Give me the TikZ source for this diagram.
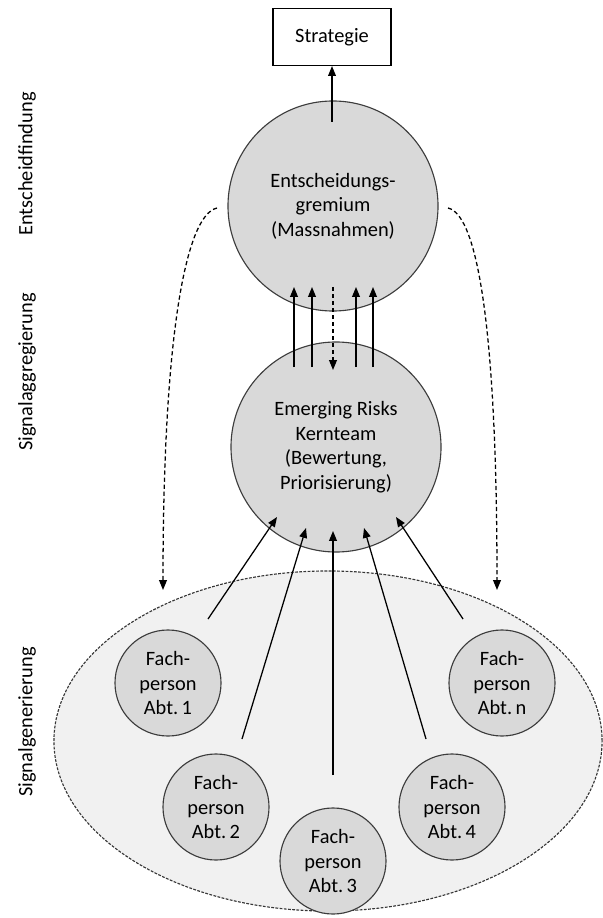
\documentclass[tikz,border=0pt]{standalone}
\usepackage{fontspec}
\setmainfont{Carlito}
\usetikzlibrary{arrows.meta,shapes.geometric}
\definecolor{circlegray}{RGB}{217,217,217}
\definecolor{zonegray}{RGB}{241,241,241}
\definecolor{edgegray}{RGB}{60,60,60}

\begin{document}
\begin{tikzpicture}[x=0.025cm,y=-0.025cm,
  >={Triangle[length=7pt,width=5.5pt]},
  every node/.style={font=\fontsize{14.5}{17.4}\selectfont,align=center},
  bigcircle/.style={circle,draw=edgegray,line width=0.8pt,fill=circlegray,minimum size=5.25cm,inner sep=0pt},
  smallcircle/.style={circle,draw=edgegray,line width=0.8pt,fill=circlegray,minimum size=2.65cm,inner sep=0pt},
  flow/.style={->,line width=0.9pt},
  feedback/.style={->,line width=0.9pt,dash pattern=on 3pt off 2pt}]
\useasboundingbox (0,0) rectangle (603,918);

% ebenen links
\node[rotate=90] (ebene1) at (27,164) {Entscheidfindung};
\node[rotate=90] (ebene2) at (27,372) {Signalaggregierung};
\node[rotate=90] (ebene3) at (27,722) {Signalgenerierung};

% signalgenerierung
\node[ellipse,draw=edgegray!90!black,fill=zonegray,line width=0.8pt,dash pattern=on 2pt off 1pt,
  minimum width=13.7cm,minimum height=8.5cm] (zone) at (328,741) {};
\node[smallcircle] (fach1) at (168,683) {Fach-\\person\\Abt.\,1};
\node[smallcircle] (fach2) at (216,807) {Fach-\\person\\Abt.\,2};
\node[smallcircle] (fach3) at (333,861) {Fach-\\person\\Abt.\,3};
\node[smallcircle] (fach4) at (452,807) {Fach-\\person\\Abt.\,4};
\node[smallcircle] (fachn) at (502,683) {Fach-\\person\\Abt.\,n};

% kernteam und gremium
\node[bigcircle] (kernteam) at (336,447) {Emerging Risks\\Kernteam\\(Bewertung,\\Priorisierung)};
\node[bigcircle] (gremium) at (333,206) {Entscheidungs-\\gremium\\(Massnahmen)};
\node[draw,line width=0.8pt,minimum width=2.95cm,minimum height=1.425cm] (strategie) at (332,37) {Strategie};

\coordinate (g0) at (332,122);
\draw[flow] (g0) -- (strategie.south);

% zwischen den kreisen
\coordinate (u1a) at (294,367); \coordinate (u1b) at (294,287);
\coordinate (u2a) at (312,367); \coordinate (u2b) at (312,287);
\coordinate (u3a) at (356,367); \coordinate (u3b) at (356,287);
\coordinate (u4a) at (373,367); \coordinate (u4b) at (373,287);
\coordinate (d0a) at (333,287); \coordinate (d0b) at (333,370);
\draw[flow] (u1a) -- (u1b);
\draw[flow] (u2a) -- (u2b);
\draw[flow] (u3a) -- (u3b);
\draw[flow] (u4a) -- (u4b);
\draw[feedback] (d0a) -- (d0b);

% fachpersonen zum kernteam
\coordinate (s1) at (208,619); \coordinate (t1) at (277,517);
\coordinate (s2) at (242,739); \coordinate (t2) at (306,528);
\coordinate (s3) at (333,775); \coordinate (t3) at (333,531);
\coordinate (s4) at (426,739); \coordinate (t4) at (364,528);
\coordinate (sn) at (463,619); \coordinate (tn) at (396,517);
\draw[flow] (s1) -- (t1);
\draw[flow] (s2) -- (t2);
\draw[flow] (s3) -- (t3);
\draw[flow] (s4) -- (t4);
\draw[flow] (sn) -- (tn);

% rueckmeldung
\coordinate (l0) at (217,208); \coordinate (l1) at (163,590);
\coordinate (r0) at (448,208); \coordinate (r1) at (497,590);
\draw[feedback] (l0) .. controls (185,215) and (163,340) .. (l1);
\draw[feedback] (r0) .. controls (479,215) and (497,340) .. (r1);
\end{tikzpicture}
\end{document}
